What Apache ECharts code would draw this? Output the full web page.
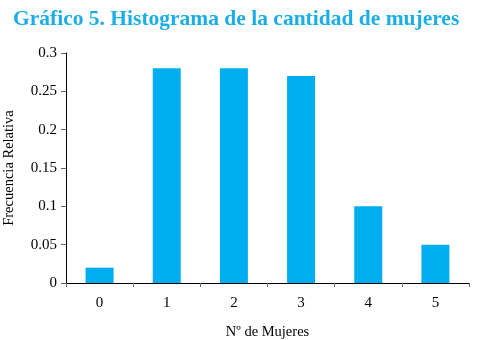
<!DOCTYPE html>
<html><head><meta charset="utf-8">
<script src="https://cdn.jsdelivr.net/npm/echarts@6/dist/echarts.min.js"></script>
<style>html,body{margin:0;padding:0;background:#fff}#c{width:477px;height:340px}</style>
</head><body><div id="c"></div>
<script>
const categories = ['0','1','2','3','4','5'];
const values = [0.02, 0.28, 0.28, 0.27, 0.10, 0.05];
const yTicks = [0, 0.05, 0.1, 0.15, 0.2, 0.25, 0.3];
const titleText = 'Gráfico 5. Histograma de la cantidad de mujeres';
const xName = 'Nº de Mujeres';
const yName = 'Frecuencia Relativa';

const chart = echarts.init(document.getElementById('c'), null, {renderer:'canvas'});
const serif = '"Liberation Serif", "DejaVu Serif", serif';
chart.setOption({
  animation:false,
  title:{text:titleText,left:8,top:3,textStyle:{fontFamily:serif,fontWeight:'bold',fontSize:21.5,color:'#1aaee8'}},
  grid:{left:66,top:53,right:8,bottom:57,containLabel:false,outerBoundsMode:'none'},
  xAxis:{type:'category',data:categories,
    name:xName,nameLocation:'middle',nameGap:42,
    nameTextStyle:{fontFamily:serif,fontSize:14.5,color:'#000'},
    axisLine:{lineStyle:{color:'#000',width:1}},
    axisTick:{show:true,length:4,lineStyle:{color:'#666'},alignWithLabel:false},
    axisLabel:{fontFamily:serif,fontSize:15,color:'#000',margin:13},
    splitLine:{show:false}},
  yAxis:{type:'value',min:0,max:0.3,interval:0.05,
    name:yName,nameLocation:'middle',nameGap:49,
    nameTextStyle:{fontFamily:serif,fontSize:14.5,color:'#000'},
    axisLine:{show:true,lineStyle:{color:'#000',width:1}},
    axisTick:{show:true,length:5,lineStyle:{color:'#666'}},
    axisLabel:{fontFamily:serif,fontSize:15,color:'#000',margin:9,
      formatter:v=>{const t=yTicks.find(x=>Math.abs(x-v)<1e-9);return t===undefined?'':String(t);}},
    splitLine:{show:false}},
  series:[{type:'bar',data:values,barWidth:28,itemStyle:{color:'#00aeef'}}]
});
</script></body></html>
